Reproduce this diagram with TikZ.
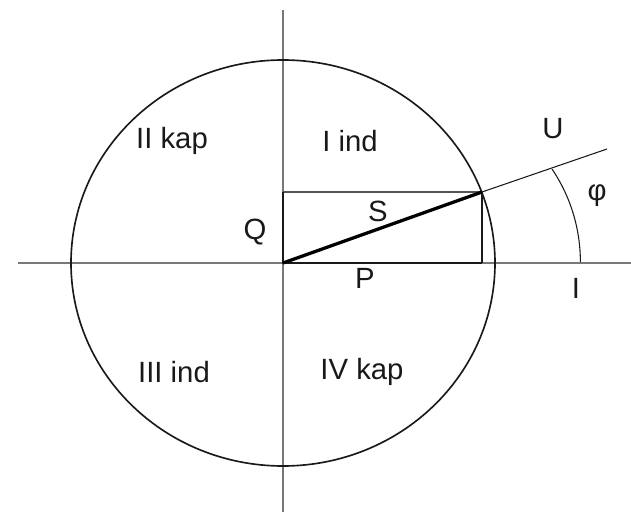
\documentclass[tikz,border=0pt]{standalone}
\usepackage{fontspec}
\setmainfont{Liberation Sans}
\usetikzlibrary{positioning,calc}
\definecolor{ejegris}{RGB}{120,120,120}
\definecolor{trazo}{RGB}{25,25,25}
\definecolor{bordegris}{RGB}{85,85,85}

\begin{document}
\begin{tikzpicture}[x=0.03cm, y=-0.03cm,
  eje/.style={draw=ejegris, line width=1.1pt},
  contorno/.style={draw=trazo, line width=1.4pt},
  lado/.style={draw=trazo, line width=2.1pt},
  fasor/.style={draw=black, line width=2.8pt},
  fino/.style={draw=trazo, line width=0.9pt},
  rotulo/.style={font=\fontsize{25}{29}\selectfont, text=trazo, inner sep=0pt}]
  \useasboundingbox (0,0) rectangle (631,512);
  % ejes
  \coordinate (O) at (283,263);
  \coordinate (ejeN) at (283,10);
  \coordinate (ejeS) at (283,512);
  \coordinate (ejeW) at (18,263);
  \coordinate (ejeE) at (631,263);
  \draw[eje] (ejeN) -- (ejeS);
  \draw[eje] (ejeW) -- (ejeE);
  % circulo
  \draw[contorno] (O) ellipse[x radius=212, y radius=203];
  % rectangulo de potencias
  \coordinate (C) at (482,192);
  \coordinate (Qtop) at (283,192);
  \coordinate (Pend) at (482,263);
  \draw[lado, draw=bordegris] (Qtop) -- (C);
  \draw[lado] (Qtop) -- (O) -- (Pend);
  \draw[lado, line width=1.6pt] (C) -- (Pend);
  \draw[fasor] (O) -- (C);
  % tension y angulo
  \coordinate (Uend) at (607,149);
  \coordinate (phiA) at (552,169);
  \draw[fino] (C) -- (Uend);
  \draw[fino] (phiA) arc[start angle=-34, end angle=0, radius=166];
  % rotulos
  \node[rotulo] (lbII) at (172,141) {II kap};
  \node[rotulo] (lbI) at (350,141) {I ind};
  \node[rotulo] (lbIII) at (174,372) {III ind};
  \node[rotulo] (lbIV) at (362,372) {IV kap};
  \node[rotulo] (lbQ) at (255,232) {Q};
  \node[rotulo] (lbS) at (378,211) {S};
  \node[rotulo] (lbP) at (365,278) {P};
  \node[rotulo] (lbU) at (553,129) {U};
  \node[rotulo] (lbI2) at (576,288) {I};
  \node[rotulo] (lbphi) at (597,196) {φ};
\end{tikzpicture}
\end{document}
